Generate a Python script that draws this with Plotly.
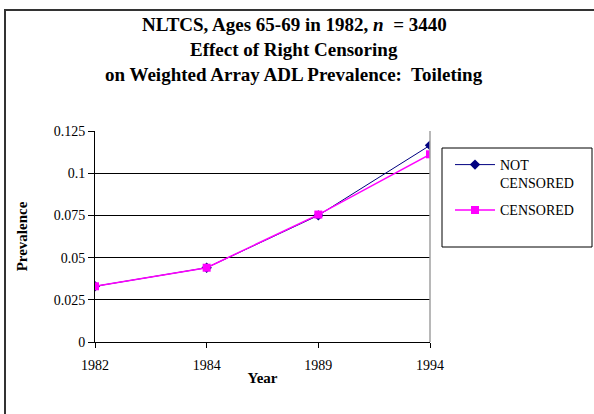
import plotly.graph_objects as go

YEARS = ["1982", "1984", "1989", "1994"]
NOT_CENSORED = [0.0330, 0.0440, 0.0750, 0.1165]
CENSORED = [0.0330, 0.0440, 0.0755, 0.1112]
Y_TICKS = [0, 0.025, 0.05, 0.075, 0.1, 0.125]
Y_TICK_TEXT = ["0", "0.025", "0.05", "0.075", "0.1", "0.125"]
TITLE_LINES = [
    "NLTCS, Ages 65-69 in 1982, <i>n</i>  = 3440",
    "Effect of Right Censoring",
    "on Weighted Array ADL Prevalence:  Toileting",
]

SERIF = "Liberation Serif, Times New Roman, serif"

W, H = 594, 414
# plot area in pixels
X0, X1, Y0, Y1 = 95, 430, 131, 342
L, R, T, B = X0, W - X1, Y0, H - Y1
PW, PH = X1 - X0, Y1 - Y0


def px_x(x):
    return (x - X0) / PW


def px_y(y):
    return (Y1 - y) / PH


fig = go.Figure()
fig.add_trace(go.Scatter(
    x=YEARS, y=NOT_CENSORED, name="NOT<br>CENSORED", mode="lines+markers",
    legendgroup="nc",
    line=dict(color="#000080", width=1),
    marker=dict(symbol="diamond", size=8, color="#000080"),
))
fig.add_trace(go.Scatter(
    x=YEARS, y=CENSORED, name="CENSORED", mode="lines+markers",
    legendgroup="c",
    line=dict(color="#FF00FF", width=1.5),
    marker=dict(symbol="square", size=8, color="#FF00FF"),
))

for i, line in enumerate(TITLE_LINES):
    fig.add_annotation(
        text=f"<b>{line}</b>", xref="paper", yref="paper",
        x=px_x(294), y=px_y(25 + 25 * i), xanchor="center", yanchor="middle",
        showarrow=False, font=dict(family=SERIF, size=19, color="black"),
    )

# chart outer border: only the left and top edges fall inside the window
border_path = (
    f"M {px_x(5)},{px_y(414)} L {px_x(5)},{px_y(10)} L {px_x(594)},{px_y(10)}"
)
shapes = [
    dict(type="path", xref="paper", yref="paper", path=border_path,
         line=dict(color="#333333", width=2)),
    # right plot-area edge
    dict(type="line", xref="paper", yref="paper", x0=1, x1=1, y0=0, y1=1,
         line=dict(color="#a0a0a0", width=1.5)),
    # legend box
    dict(type="rect", xref="paper", yref="paper",
         x0=px_x(442), x1=px_x(592), y0=px_y(247), y1=px_y(148),
         line=dict(color="black", width=1)),
]

fig.update_layout(
    width=W, height=H,
    margin=dict(l=L, r=R, t=T, b=B),
    paper_bgcolor="white", plot_bgcolor="white",
    font=dict(family=SERIF, size=14, color="black"),
    shapes=shapes,
    showlegend=True,
    legend=dict(
        x=px_x(450), y=px_y(149), xanchor="left", yanchor="top",
        bgcolor="rgba(0,0,0,0)", borderwidth=0, valign="top",
        font=dict(family=SERIF, size=14, color="black"),
        tracegroupgap=6, itemwidth=40,
    ),
)
fig.update_xaxes(
    type="category", range=[0, 3], showgrid=False,
    showline=True, linecolor="black", linewidth=1,
    ticks="outside", ticklen=5, tickcolor="black", ticklabelstandoff=5,
    title=dict(text="<b>Year</b>", font=dict(family=SERIF, size=15), standoff=0),
)
fig.update_yaxes(
    range=[0, 0.125], tickvals=Y_TICKS, ticktext=Y_TICK_TEXT,
    showgrid=True, gridcolor="black", gridwidth=1,
    showline=True, linecolor="black", linewidth=1,
    ticks="outside", ticklen=6, tickcolor="black", zeroline=False,
    title=dict(text="<b>Prevalence</b>", font=dict(family=SERIF, size=15), standoff=22),
)

# drop the browser's default body margin so the figure sits at the window origin
fig.write_html(
    "out.html",
    config={"displayModeBar": False},
    post_script="document.body.style.margin = '0';",
)
